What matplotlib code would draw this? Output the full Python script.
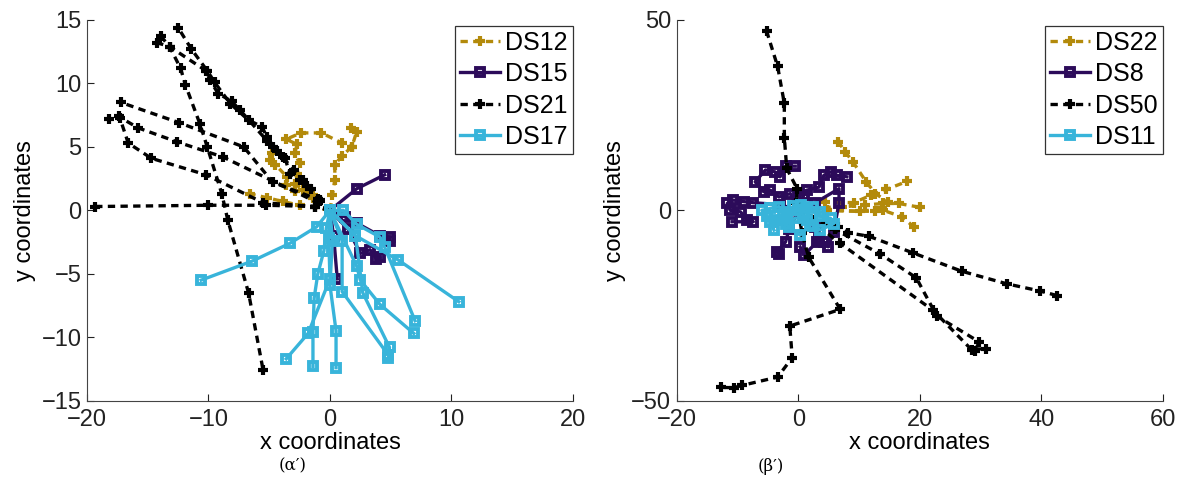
import numpy as np
import matplotlib
matplotlib.use("Agg")
import matplotlib.pyplot as plt

plt.rcParams['font.family'] = ['Liberation Sans', 'DejaVu Sans']

# ---------------- data: panel (a') ----------------
# each series = list of trajectories; each trajectory = list of x / list of y
ds12_x = [[0, 0.2, 0.4, 0.4, 1.0, 1.8, 2.2, 1.7],
          [0, -1.4, -2.2, -2.9, -2.7, -2.5, -2.9, -2.7, -3.6, -2.4, -0.7, 1.0, 1.8],
          [0, -1.4, -2.9, -3.6, -3.5, -4.5, -4.9, -4.8],
          [0, -2.5, -3.9, -5.2, -6.6]]
ds12_y = [[0, 1.2, 2.4, 3.6, 4.3, 5.0, 6.2, 6.5],
          [0, 1.2, 1.6, 2.1, 2.9, 3.7, 4.5, 5.2, 5.6, 6.1, 6.1, 5.3, 5.0],
          [0, 1.0, 1.5, 2.0, 2.6, 3.6, 4.0, 4.5],
          [0, 0.4, 0.7, 1.0, 1.3]]

ds15_x = [[0, 2.2, 4.5],
          [0, 1.2, 2.2, 4.1, 4.9, 4.9],
          [0, 1.5, 2.5, 3.3, 3.8, 4.1],
          [0, 0.3, 0.6]]
ds15_y = [[0, 1.7, 2.8],
          [0, -0.5, -1.0, -2.0, -2.1, -2.4],
          [0, -1.5, -3.4, -3.1, -3.8, -3.7],
          [0, -2.0, -5.4]]

ds21_x = [[0, -1.2, -5.3, -10.0, -19.3],
          [0, -0.8, -4.7, -7.1, -12.4, -17.2],
          [0, -1.0, -8.8, -12.6, -15.8, -17.4, -18.2],
          [0, -1.2, -5.5, -10.2, -14.7, -16.6, -17.3],
          [0, -1.0, -1.6, -2.2, -3.0, -3.9, -4.4, -5.2, -5.6, -6.7, -8.2, -9.5, -10.1, -11.4, -12.5],
          [0, -0.8, -1.9, -2.5, -3.3, -3.7, -4.7, -5.2, -7.4, -8.1, -9.2, -9.9, -10.2, -13.2, -14.2,
           -13.9, -13.2, -12.3, -11.9, -10.7, -10.1, -8.9, -8.4, -6.7, -5.5]]
ds21_y = [[0, 0.3, 0.4, 0.4, 0.3],
          [0, 0.8, 2.2, 5.0, 6.9, 8.5],
          [0, 0.6, 4.2, 5.4, 6.5, 7.4, 7.2],
          [0, 0.3, 0.6, 2.8, 4.1, 5.3, 7.3],
          [0, 0.9, 1.7, 2.4, 3.2, 4.2, 4.7, 5.8, 6.6, 7.1, 8.4, 10.1, 11.0, 12.7, 14.4],
          [0, 0.7, 1.9, 2.4, 2.9, 4.1, 5.0, 5.5, 7.9, 8.6, 9.2, 10.3, 11.0, 12.9, 13.2,
           13.7, 12.9, 11.2, 9.9, 6.8, 5.0, 1.3, -0.8, -6.5, -12.6]]

ds17_x = [[0, -1.1, -3.3, -6.4, -10.6],
          [0, -0.3, -0.5, -1.0, -1.3, -1.4, -1.4],
          [0, -0.1, 0.0, -1.8, -3.6],
          [0, 0.2, 0.0, 0.5, 0.5],
          [0, 1.0, 1.0, 4.8],
          [0, 2.2, 2.5, 4.1, 6.9],
          [0, 2.1, 2.7, 4.9, 4.8],
          [0, 1.1, 2.2, 4.1, 4.5, 7.0],
          [0, 2.1, 5.6, 10.6]]
ds17_y = [[0, -1.3, -2.6, -4.0, -5.5],
          [0, -1.4, -3.2, -5.0, -6.9, -9.6, -12.3],
          [0, -2.2, -5.4, -9.7, -11.7],
          [0, -2.4, -5.9, -9.5, -12.4],
          [0, -2.4, -6.4, -11.4],
          [0, -4.4, -5.5, -7.4, -9.7],
          [0, -2.0, -6.5, -10.8, -11.6],
          [0, 0.0, -1.1, -2.1, -2.9, -8.7],
          [0, -2.0, -3.9, -7.2]]

# ---------------- data: panel (b') ----------------
ds22_x = [[0, 4.7, 10.2, 13.8, 14.7, 12.7, 11.2, 9.0, 7.7, 6.6],
          [0, 4.4, 9.1, 12.0, 14.5, 17.9],
          [0, 3.1, 7.2, 11.0, 14.0, 16.5, 20.0],
          [0, 4.7, 12.7, 14.0, 17.0, 19.0]]
ds22_y = [[0, 0.0, -0.3, 0.5, 2.2, 4.4, 7.4, 12.7, 15.4, 18.0],
          [0, 2.2, 2.0, 4.0, 5.5, 7.6],
          [0, 0.7, 0.9, 1.4, 1.8, 1.8, 0.8],
          [0, 0.0, -0.3, 0.0, -1.7, -4.3]]

ds8_x = [[0, -1.3, -3.2, -4.6, -5.7, -7.1, -5.4, -3.8, -3.0, -2.1, -0.5],
         [0, 0.9, 1.4, 3.4, 4.2, 5.3, 6.4, 8.0],
         [0, 2.8, 6.7, 6.7, 5.8, 4.9, 4.2, 3.4],
         [0, -3.0, -7.4, -9.0, -10.7, -11.7, -11.2, -9.5, -8.4, -7.4, -10.9],
         [0, -1.5, -2.1, -3.5, -3.2],
         [0, 2.8, 3.1, 0.9, 0.3]]
ds8_y = [[0, 4.4, 3.5, 5.3, 4.9, 7.5, 10.6, 10.1, 8.8, 11.6, 11.6],
         [0, 4.0, 5.3, 6.1, 9.2, 10.1, 9.2, 8.8],
         [0, 2.0, 5.7, 1.8, -5.6, -9.6, -8.3, -7.4],
         [0, 1.5, 2.0, 2.3, 2.7, 1.8, 0.0, -0.4, -2.6, -3.0, -3.0],
         [0, -5.0, -8.3, -10.9, -11.4],
         [0, -4.4, -8.3, -11.8, -9.6]]

ds50_x = [[0, -0.3, -0.2, -1.9, -2.3, -2.3, -3.4, -5.2],
          [0, 0.6, 1.7, 6.9, -1.4, -1.0, -3.4, -9.3, -10.6, -12.7],
          [0, 6.6, 8.2, 11.6, 18.9, 26.9, 34.3, 39.8, 42.6],
          [0, 6.0, 13.5, 19.4, 22.8, 29.8, 29.0],
          [0, 6.9, 22.2, 28.5, 30.8]]
ds50_y = [[0, 1.9, 5.7, 11.0, 19.1, 28.1, 37.8, 47.0],
          [0, -6.0, -12.3, -26.0, -30.4, -38.7, -43.8, -46.0, -46.6, -46.5],
          [0, -4.4, -5.9, -6.8, -11.2, -16.0, -19.3, -21.2, -22.4],
          [0, -5.0, -11.5, -17.7, -27.8, -34.6, -36.9],
          [0, -8.7, -26.3, -36.6, -36.3]]

ds11_x = [[0, -1.9, -3.2, -4.6, -6.0, -5.2, -4.6, -4.0],
          [0, 1.0, 2.0, 0.3, -1.5, -2.5],
          [0, 1.5, 3.6, 5.3, 5.8, 3.6, 2.5],
          [0, -0.8, 0.5, 2.5, 3.5],
          [0, -2.5, -4.0, -2.0, -0.5, 1.5]]
ds11_y = [[0, -0.4, 1.0, 0.5, 0.0, -1.5, -3.0, -5.2],
          [0, -1.5, -3.9, -6.5, -4.5, -2.5],
          [0, 0.5, -1.5, -2.1, -3.5, -5.2, -4.0],
          [0, 1.2, 1.5, 0.8, -0.5],
          [0, -1.0, -2.5, -3.5, -2.0, -2.5]]

left_labels = ['DS12', 'DS15', 'DS21', 'DS17']
right_labels = ['DS22', 'DS8', 'DS50', 'DS11']

GOLD = '#B38A0B'
PURPLE = '#2C0B5A'
BLACK = '#000000'
CYAN = '#38B4DA'

dash_style = dict(ls=(0, (2.2, 1.6)), lw=2.4, marker='+', ms=7, mew=3.0)
solid_style = dict(ls='-', lw=2.4, marker='s', ms=6, mew=2.8, mfc='none')


def draw(ax, xs, ys, color, style, label):
    for i, (tx, ty) in enumerate(zip(xs, ys)):
        ax.plot(tx, ty, color=color, label=label if i == 0 else None, **style)


fig = plt.figure(figsize=(11.91, 4.98), dpi=100)
ax1 = fig.add_axes([0.0730, 0.1954, 0.4081, 0.7645])
ax2 = fig.add_axes([0.5682, 0.1954, 0.4083, 0.7645])

draw(ax1, ds12_x, ds12_y, GOLD, dash_style, left_labels[0])
draw(ax1, ds15_x, ds15_y, PURPLE, solid_style, left_labels[1])
draw(ax1, ds21_x, ds21_y, BLACK, dash_style, left_labels[2])
draw(ax1, ds17_x, ds17_y, CYAN, solid_style, left_labels[3])

draw(ax2, ds22_x, ds22_y, GOLD, dash_style, right_labels[0])
draw(ax2, ds8_x, ds8_y, PURPLE, solid_style, right_labels[1])
draw(ax2, ds50_x, ds50_y, BLACK, dash_style, right_labels[2])
draw(ax2, ds11_x, ds11_y, CYAN, solid_style, right_labels[3])

ax1.set_xlim(-20, 20)
ax1.set_ylim(-15, 15)
ax1.set_xticks([-20, -10, 0, 10, 20])
ax1.set_yticks([-15, -10, -5, 0, 5, 10, 15])
ax2.set_xlim(-20, 60)
ax2.set_ylim(-50, 50)
ax2.set_xticks([-20, 0, 20, 40, 60])
ax2.set_yticks([-50, 0, 50])

for ax in (ax1, ax2):
    ax.spines['top'].set_visible(False)
    ax.spines['right'].set_visible(False)
    for s in ('left', 'bottom'):
        ax.spines[s].set_linewidth(0.8)
        ax.spines[s].set_color('#444444')
    ax.tick_params(direction='in', length=5, width=0.8, labelsize=17, colors='#222222')
    ax.tick_params(axis='x', pad=6)
    ax.tick_params(axis='y', pad=4)
    ax.set_xlabel('x coordinates', fontsize=17, labelpad=1)
    ax.set_ylabel('y coordinates', fontsize=17, labelpad=4)
    leg = ax.legend(loc='upper right', bbox_to_anchor=(1.0, 0.985), fontsize=18,
                    frameon=True, fancybox=False, handlelength=1.6, handletextpad=0.2,
                    borderpad=0.2, labelspacing=0.3, borderaxespad=0.0)
    leg.get_frame().set_edgecolor('black')
    leg.get_frame().set_linewidth(0.9)

fig.text(0.246, 0.064, "(α′)", fontsize=12, family='DejaVu Serif', ha='center', va='center')
fig.text(0.647, 0.064, "(β′)", fontsize=12, family='DejaVu Serif', ha='center', va='center')

fig.savefig('out.png', dpi=100)
